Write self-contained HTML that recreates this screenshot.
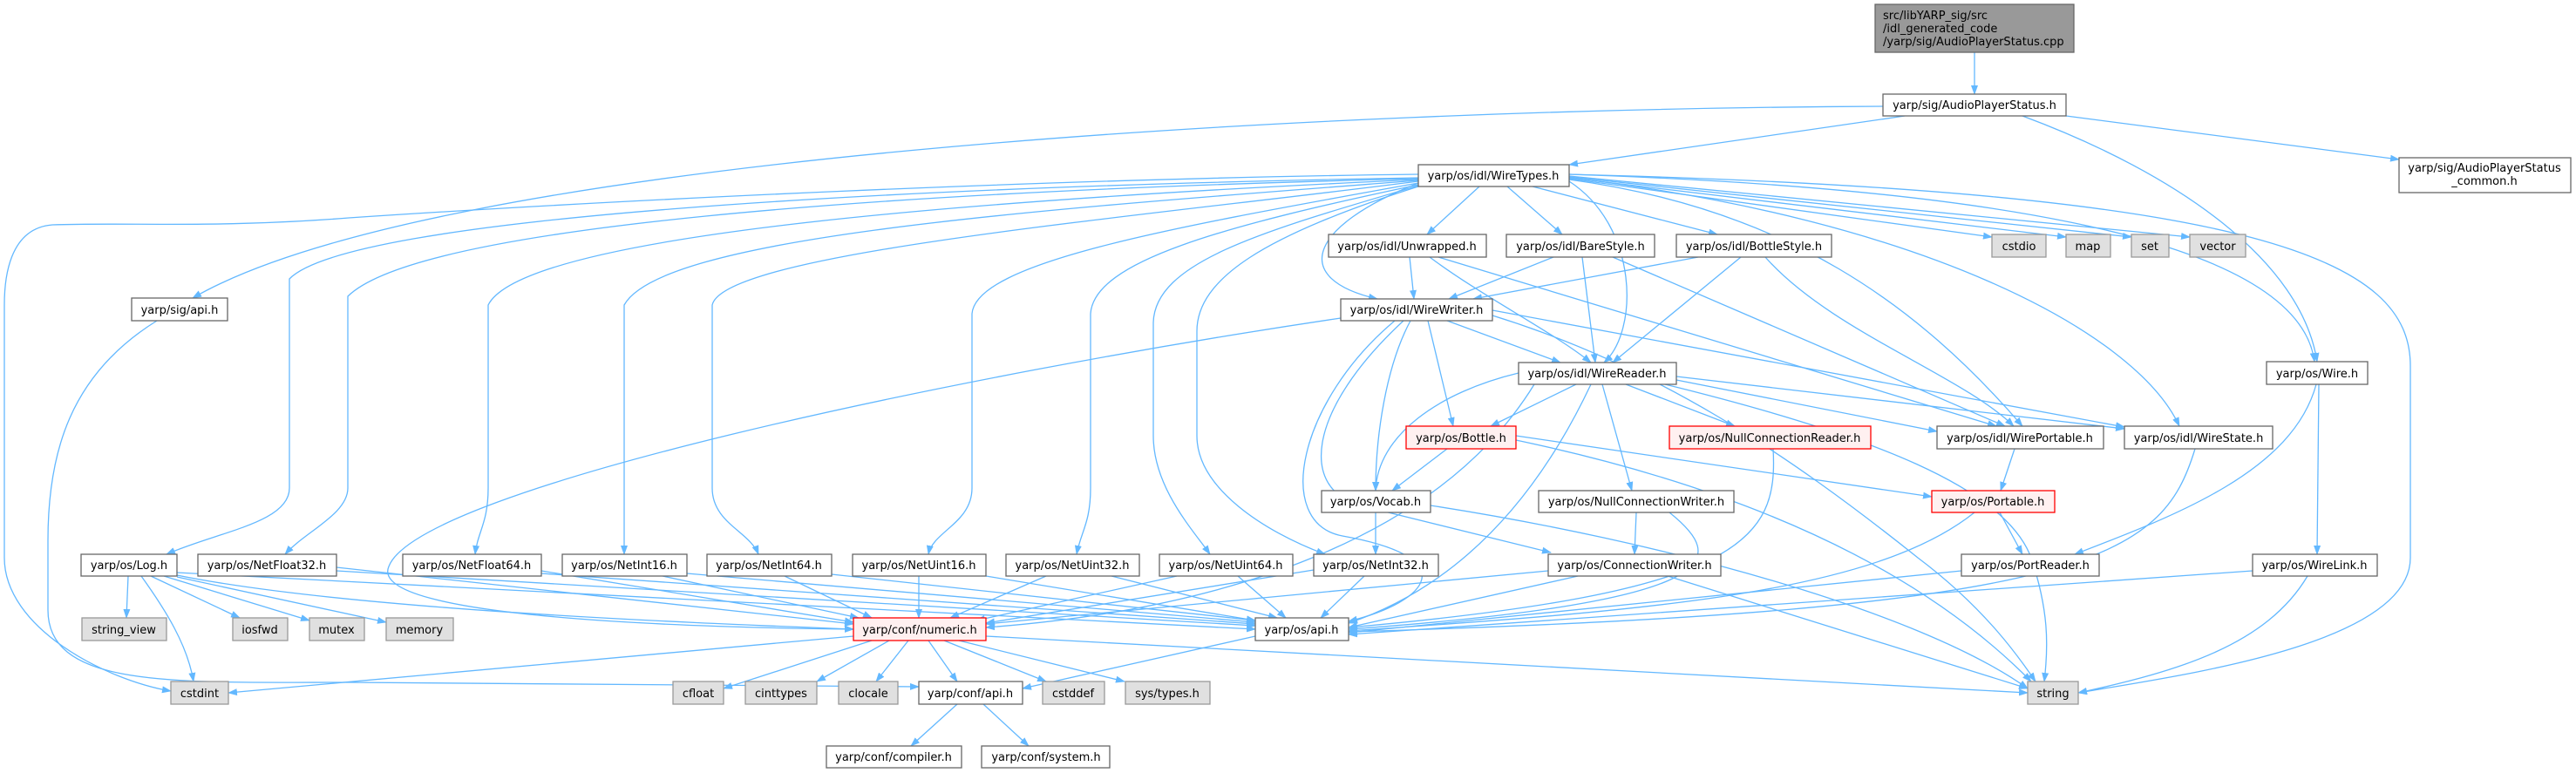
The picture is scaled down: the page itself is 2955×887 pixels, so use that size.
<!DOCTYPE html>
<html><head><meta charset="utf-8"><style>
html,body{margin:0;padding:0;background:#fff;}
svg{display:block}
text{font-family:"DejaVu Sans","Liberation Sans",sans-serif;font-size:13px;fill:#000;text-anchor:middle}
.e{fill:none;stroke:#63b8ff;stroke-width:1.3;marker-end:url(#a)}
.n{fill:#fff;stroke:#666;stroke-width:1.3}
.g{fill:#e0e0e0;stroke:#999;stroke-width:1.3}
.r{fill:#fff0f0;stroke:#f00;stroke-width:1.3}
.c{fill:#999;stroke:#666;stroke-width:1.3}
</style></head><body>
<svg width="2955" height="887" viewBox="0 0 2955 887" xmlns="http://www.w3.org/2000/svg">
<defs><marker id="a" markerWidth="11" markerHeight="8" refX="10" refY="4" orient="auto" markerUnits="userSpaceOnUse"><path d="M0,0 L11,4 L0,8 z" fill="#63b8ff"/></marker></defs>
<g>
<path class="e" d="M2265,60 L2265,108"/>
<path class="e" d="M2185,133 L1800,189"/>
<path class="e" d="M2370,133 L2752,183"/>
<path class="e" d="M2320,133 C2500,200 2640,300 2658,415"/>
<path class="e" d="M2160,122 C1500,125 500,180 221,342"/>
<path class="e" d="M180,368 C80,430 55,520 55,620 L55,700 C55,790 200,783 400,783 L1054,788"/>
<path class="e" d="M1627,200 C1200,205 700,230 400,250 C250,262 150,255 60,258 C10,262 5,320 5,350 L5,640 C5,720 120,780 196,793"/>
<path class="e" d="M1627,204 C1000,215 400,250 332,320 L332,560 C332,600 250,610 191,636"/>
<path class="e" d="M1627,205 C1000,220 480,260 399,340 L399,560 C399,590 350,610 327,636"/>
<path class="e" d="M1627,206 C1100,230 600,270 560,350 L560,560 C560,600 548,610 545,636"/>
<path class="e" d="M1627,207 C1200,240 760,270 716,350 L716,636"/>
<path class="e" d="M1627,208 C1300,250 830,290 817,350 L817,560 C817,600 860,610 870,636"/>
<path class="e" d="M1627,210 C1350,260 1120,300 1115,360 L1115,560 C1115,600 1070,610 1065,636"/>
<path class="e" d="M1627,212 C1400,260 1255,300 1251,360 L1251,560 C1251,600 1240,610 1235,636"/>
<path class="e" d="M1627,213 C1450,265 1325,300 1323,370 L1323,500 C1323,560 1370,610 1388,636"/>
<path class="e" d="M1627,214 C1450,270 1373,320 1373,380 L1373,500 C1373,560 1450,610 1520,636"/>
<path class="e" d="M1697,214 L1637,269"/>
<path class="e" d="M1729,214 L1792,269"/>
<path class="e" d="M1758,214 L1970,269"/>
<path class="e" d="M1627,210 C1500,260 1480,320 1580,343"/>
<path class="e" d="M1800,208 C1880,260 1880,380 1840,416"/>
<path class="e" d="M1800,206 C2050,240 2200,350 2320,489"/>
<path class="e" d="M1800,204 C2200,250 2450,380 2500,489"/>
<path class="e" d="M1800,200 C2400,220 2640,300 2655,415"/>
<path class="e" d="M1800,205 L2285,272"/>
<path class="e" d="M1800,204 L2370,272"/>
<path class="e" d="M1800,203 L2445,272"/>
<path class="e" d="M1800,202 L2512,272"/>
<path class="e" d="M1800,200 C2600,220 2765,300 2765,420 L2765,640 C2765,740 2500,775 2384,795"/>
<path class="e" d="M1617,295 L1622,343"/>
<path class="e" d="M1640,295 C1700,340 1780,380 1825,416"/>
<path class="e" d="M1650,295 L2290,489"/>
<path class="e" d="M1782,295 L1662,343"/>
<path class="e" d="M1815,295 L1830,416"/>
<path class="e" d="M1850,295 L2300,489"/>
<path class="e" d="M1948,295 L1690,343"/>
<path class="e" d="M1997,295 L1850,416"/>
<path class="e" d="M2025,295 C2100,380 2250,430 2310,489"/>
<path class="e" d="M1538,365 C1100,430 480,560 446,650 C420,710 800,720 979,722"/>
<path class="e" d="M1638,368 L1667,489"/>
<path class="e" d="M1618,368 C1590,420 1578,500 1578,563"/>
<path class="e" d="M1660,368 L1790,416"/>
<path class="e" d="M1600,368 C1490,460 1460,600 1540,615 C1680,640 1640,690 1547,713"/>
<path class="e" d="M1610,368 C1500,470 1490,560 1560,580 L1779,634"/>
<path class="e" d="M1712,362 C1900,420 2050,520 2200,640 C2280,700 2320,760 2335,782"/>
<path class="e" d="M1712,356 L2437,490"/>
<path class="e" d="M1808,441 L1710,489"/>
<path class="e" d="M1742,428 C1650,450 1580,500 1578,563"/>
<path class="e" d="M1865,441 L1990,489"/>
<path class="e" d="M1838,441 L1872,563"/>
<path class="e" d="M1825,441 C1750,600 1650,680 1547,715"/>
<path class="e" d="M1923,436 L2222,495"/>
<path class="e" d="M1923,432 L2437,492"/>
<path class="e" d="M1910,441 C2150,500 2300,560 2330,640 C2350,700 2350,740 2345,782"/>
<path class="e" d="M1760,441 C1650,620 1400,700 1131,720"/>
<path class="e" d="M1660,515 L1597,563"/>
<path class="e" d="M1739,500 L2216,570"/>
<path class="e" d="M1739,505 C2000,560 2200,650 2330,782"/>
<path class="e" d="M1578,588 L1578,636"/>
<path class="e" d="M1641,580 C1900,620 2200,700 2326,790"/>
<path class="e" d="M2034,515 C2040,620 2000,680 1547,720"/>
<path class="e" d="M1877,588 L1875,636"/>
<path class="e" d="M1915,588 C1980,640 1990,690 1547,722"/>
<path class="e" d="M2311,515 L2295,563"/>
<path class="e" d="M2518,515 C2480,640 2400,700 1547,725"/>
<path class="e" d="M2265,588 C2150,680 1900,700 1547,724"/>
<path class="e" d="M2294,588 L2320,636"/>
<path class="e" d="M2657,441 C2630,540 2500,590 2380,636"/>
<path class="e" d="M2660,441 L2658,636"/>
<path class="e" d="M2584,655 L1547,728"/>
<path class="e" d="M2647,661 C2600,740 2500,770 2384,795"/>
<path class="e" d="M2250,655 L1547,726"/>
<path class="e" d="M1776,655 L1131,716"/>
<path class="e" d="M1810,661 L1547,720"/>
<path class="e" d="M1913,661 L2326,790"/>
<path class="e" d="M203,660 C400,700 800,715 979,722"/>
<path class="e" d="M203,657 L1440,722"/>
<path class="e" d="M386,651 L979,716"/>
<path class="e" d="M386,655 L1440,718"/>
<path class="e" d="M621,655 L979,714"/>
<path class="e" d="M621,658 L1440,716"/>
<path class="e" d="M760,661 L985,709"/>
<path class="e" d="M788,658 L1440,714"/>
<path class="e" d="M900,661 L1000,709"/>
<path class="e" d="M954,659 L1440,712"/>
<path class="e" d="M1054,661 L1054,709"/>
<path class="e" d="M1131,661 L1440,712"/>
<path class="e" d="M1200,661 L1090,709"/>
<path class="e" d="M1275,661 L1465,709"/>
<path class="e" d="M1350,661 L1120,712"/>
<path class="e" d="M1420,661 L1475,709"/>
<path class="e" d="M1507,654 L1131,715"/>
<path class="e" d="M1565,661 L1515,709"/>
<path class="e" d="M147,661 L145,709"/>
<path class="e" d="M162,661 C190,700 215,740 222,782"/>
<path class="e" d="M173,661 L275,709"/>
<path class="e" d="M188,661 L355,712"/>
<path class="e" d="M203,662 L443,714"/>
<path class="e" d="M979,730 L262,795"/>
<path class="e" d="M1000,735 L830,790"/>
<path class="e" d="M1020,735 L937,782"/>
<path class="e" d="M1042,735 L1005,782"/>
<path class="e" d="M1065,735 L1098,782"/>
<path class="e" d="M1083,735 L1200,782"/>
<path class="e" d="M1100,735 L1290,782"/>
<path class="e" d="M1131,730 L2326,795"/>
<path class="e" d="M1440,730 L1173,790"/>
<path class="e" d="M1098,808 L1045,856"/>
<path class="e" d="M1128,808 L1180,856"/>
</g>
<g>
<rect class="c" x="2151" y="5" width="228" height="55"/>
<text x="2160" y="22" style="text-anchor:start">src/libYARP_sig/src</text>
<text x="2160" y="37" style="text-anchor:start">/idl_generated_code</text>
<text x="2160" y="52" style="text-anchor:start">/yarp/sig/AudioPlayerStatus.cpp</text>
<rect class="n" x="2160" y="108" width="210" height="25"/><text x="2265" y="125">yarp/sig/AudioPlayerStatus.h</text>
<rect class="n" x="2752" y="181" width="197" height="40"/><text x="2850" y="197">yarp/sig/AudioPlayerStatus</text><text x="2850" y="212">_common.h</text>
<rect class="n" x="1627" y="189" width="173" height="25"/><text x="1713" y="206">yarp/os/idl/WireTypes.h</text>
<rect class="n" x="151" y="342" width="110" height="26"/><text x="206" y="360">yarp/sig/api.h</text>
<rect class="n" x="1524" y="269" width="181" height="26"/><text x="1614" y="287">yarp/os/idl/Unwrapped.h</text>
<rect class="n" x="1728" y="269" width="170" height="26"/><text x="1813" y="287">yarp/os/idl/BareStyle.h</text>
<rect class="n" x="1923" y="269" width="178" height="26"/><text x="2012" y="287">yarp/os/idl/BottleStyle.h</text>
<rect class="g" x="2285" y="269" width="62" height="26"/><text x="2316" y="287">cstdio</text>
<rect class="g" x="2370" y="269" width="51" height="26"/><text x="2395" y="287">map</text>
<rect class="g" x="2445" y="269" width="43" height="26"/><text x="2466" y="287">set</text>
<rect class="g" x="2512" y="269" width="64" height="26"/><text x="2544" y="287">vector</text>
<rect class="n" x="1538" y="343" width="174" height="25"/><text x="1625" y="360">yarp/os/idl/WireWriter.h</text>
<rect class="n" x="1742" y="416" width="181" height="25"/><text x="1832" y="433">yarp/os/idl/WireReader.h</text>
<rect class="n" x="2600" y="415" width="116" height="26"/><text x="2658" y="433">yarp/os/Wire.h</text>
<rect class="r" x="1613" y="489" width="126" height="26"/><text x="1676" y="507">yarp/os/Bottle.h</text>
<rect class="r" x="1915" y="489" width="231" height="26"/><text x="2030" y="507">yarp/os/NullConnectionReader.h</text>
<rect class="n" x="2222" y="489" width="191" height="26"/><text x="2317" y="507">yarp/os/idl/WirePortable.h</text>
<rect class="n" x="2437" y="489" width="170" height="26"/><text x="2522" y="507">yarp/os/idl/WireState.h</text>
<rect class="n" x="1516" y="563" width="125" height="25"/><text x="1578" y="580">yarp/os/Vocab.h</text>
<rect class="n" x="1765" y="563" width="224" height="25"/><text x="1877" y="580">yarp/os/NullConnectionWriter.h</text>
<rect class="r" x="2216" y="563" width="141" height="25"/><text x="2286" y="580">yarp/os/Portable.h</text>
<rect class="n" x="93" y="636" width="110" height="25"/><text x="148" y="653">yarp/os/Log.h</text>
<rect class="n" x="227" y="636" width="159" height="25"/><text x="306" y="653">yarp/os/NetFloat32.h</text>
<rect class="n" x="462" y="636" width="159" height="25"/><text x="541" y="653">yarp/os/NetFloat64.h</text>
<rect class="n" x="645" y="636" width="143" height="25"/><text x="716" y="653">yarp/os/NetInt16.h</text>
<rect class="n" x="811" y="636" width="143" height="25"/><text x="882" y="653">yarp/os/NetInt64.h</text>
<rect class="n" x="978" y="636" width="153" height="25"/><text x="1054" y="653">yarp/os/NetUint16.h</text>
<rect class="n" x="1154" y="636" width="153" height="25"/><text x="1230" y="653">yarp/os/NetUint32.h</text>
<rect class="n" x="1330" y="636" width="153" height="25"/><text x="1406" y="653">yarp/os/NetUint64.h</text>
<rect class="n" x="1507" y="636" width="143" height="25"/><text x="1578" y="653">yarp/os/NetInt32.h</text>
<rect class="n" x="1776" y="636" width="198" height="25"/><text x="1875" y="653">yarp/os/ConnectionWriter.h</text>
<rect class="n" x="2250" y="636" width="158" height="25"/><text x="2329" y="653">yarp/os/PortReader.h</text>
<rect class="n" x="2584" y="636" width="143" height="25"/><text x="2655" y="653">yarp/os/WireLink.h</text>
<rect class="g" x="94" y="709" width="97" height="26"/><text x="142" y="727">string_view</text>
<rect class="g" x="267" y="709" width="63" height="26"/><text x="298" y="727">iosfwd</text>
<rect class="g" x="355" y="709" width="63" height="26"/><text x="386" y="727">mutex</text>
<rect class="g" x="443" y="709" width="77" height="26"/><text x="481" y="727">memory</text>
<rect class="r" x="979" y="709" width="152" height="26"/><text x="1055" y="727">yarp/conf/numeric.h</text>
<rect class="n" x="1440" y="709" width="107" height="26"/><text x="1493" y="727">yarp/os/api.h</text>
<rect class="g" x="196" y="782" width="66" height="26"/><text x="229" y="800">cstdint</text>
<rect class="g" x="772" y="782" width="58" height="26"/><text x="801" y="800">cfloat</text>
<rect class="g" x="855" y="782" width="82" height="26"/><text x="896" y="800">cinttypes</text>
<rect class="g" x="962" y="782" width="68" height="26"/><text x="996" y="800">clocale</text>
<rect class="n" x="1054" y="782" width="119" height="26"/><text x="1113" y="800">yarp/conf/api.h</text>
<rect class="g" x="1196" y="782" width="71" height="26"/><text x="1231" y="800">cstddef</text>
<rect class="g" x="1291" y="782" width="97" height="26"/><text x="1339" y="800">sys/types.h</text>
<rect class="g" x="2326" y="782" width="58" height="26"/><text x="2355" y="800">string</text>
<rect class="n" x="948" y="856" width="155" height="25"/><text x="1025" y="873">yarp/conf/compiler.h</text>
<rect class="n" x="1126" y="856" width="147" height="25"/><text x="1200" y="873">yarp/conf/system.h</text>
</g>
</svg>
</body></html>
